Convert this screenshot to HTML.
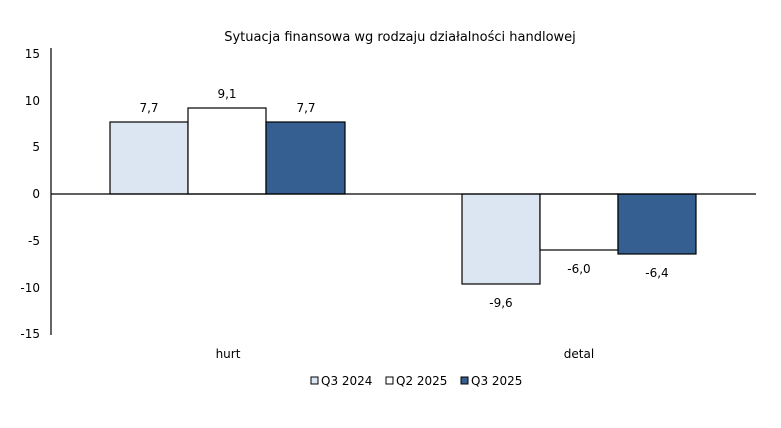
<!DOCTYPE html>
<html><head><meta charset="utf-8"><style>
body{margin:0;background:#fff;}
svg{display:block;font-family:"DejaVu Sans","Liberation Sans",sans-serif;}
</style></head><body>
<svg width="781" height="428" viewBox="0 0 781 428">
<text x="400" y="41" text-anchor="middle" font-size="13" fill="#000">Sytuacja finansowa wg rodzaju działalności handlowej</text>
<g font-size="12" fill="#000" text-anchor="end">
<text x="40" y="58">15</text>
<text x="40" y="105">10</text>
<text x="40" y="151">5</text>
<text x="40" y="198">0</text>
<text x="40" y="245">-5</text>
<text x="40" y="292">-10</text>
<text x="40" y="338">-15</text>
</g>
<g stroke="#000" stroke-width="1.2">
<rect x="110" y="122" width="78" height="72" fill="#dce6f2"/>
<rect x="188" y="108" width="78" height="86" fill="#fff"/>
<rect x="266" y="122" width="79" height="72" fill="#365f91"/>
<rect x="462" y="194" width="78" height="90" fill="#dce6f2"/>
<rect x="540" y="194" width="78" height="56" fill="#fff"/>
<rect x="618" y="194" width="78" height="60" fill="#365f91"/>
<line x1="51" y1="48" x2="51" y2="335"/>
<line x1="51" y1="194" x2="756" y2="194"/>
</g>
<g font-size="12" fill="#000" text-anchor="middle">
<text x="149" y="112">7,7</text>
<text x="227" y="98">9,1</text>
<text x="306" y="112">7,7</text>
<text x="501" y="307">-9,6</text>
<text x="579" y="273">-6,0</text>
<text x="657" y="277">-6,4</text>
<text x="228" y="358">hurt</text>
<text x="579" y="358">detal</text>
</g>
<g font-size="12" fill="#000" stroke-width="1">
<rect x="311" y="377" width="7" height="7" fill="#dce6f2" stroke="#000"/>
<text x="321" y="385">Q3 2024</text>
<rect x="386" y="377" width="7" height="7" fill="#fff" stroke="#000"/>
<text x="396" y="385">Q2 2025</text>
<rect x="461" y="377" width="7" height="7" fill="#365f91" stroke="#000"/>
<text x="471" y="385">Q3 2025</text>
</g>
</svg>
</body></html>
